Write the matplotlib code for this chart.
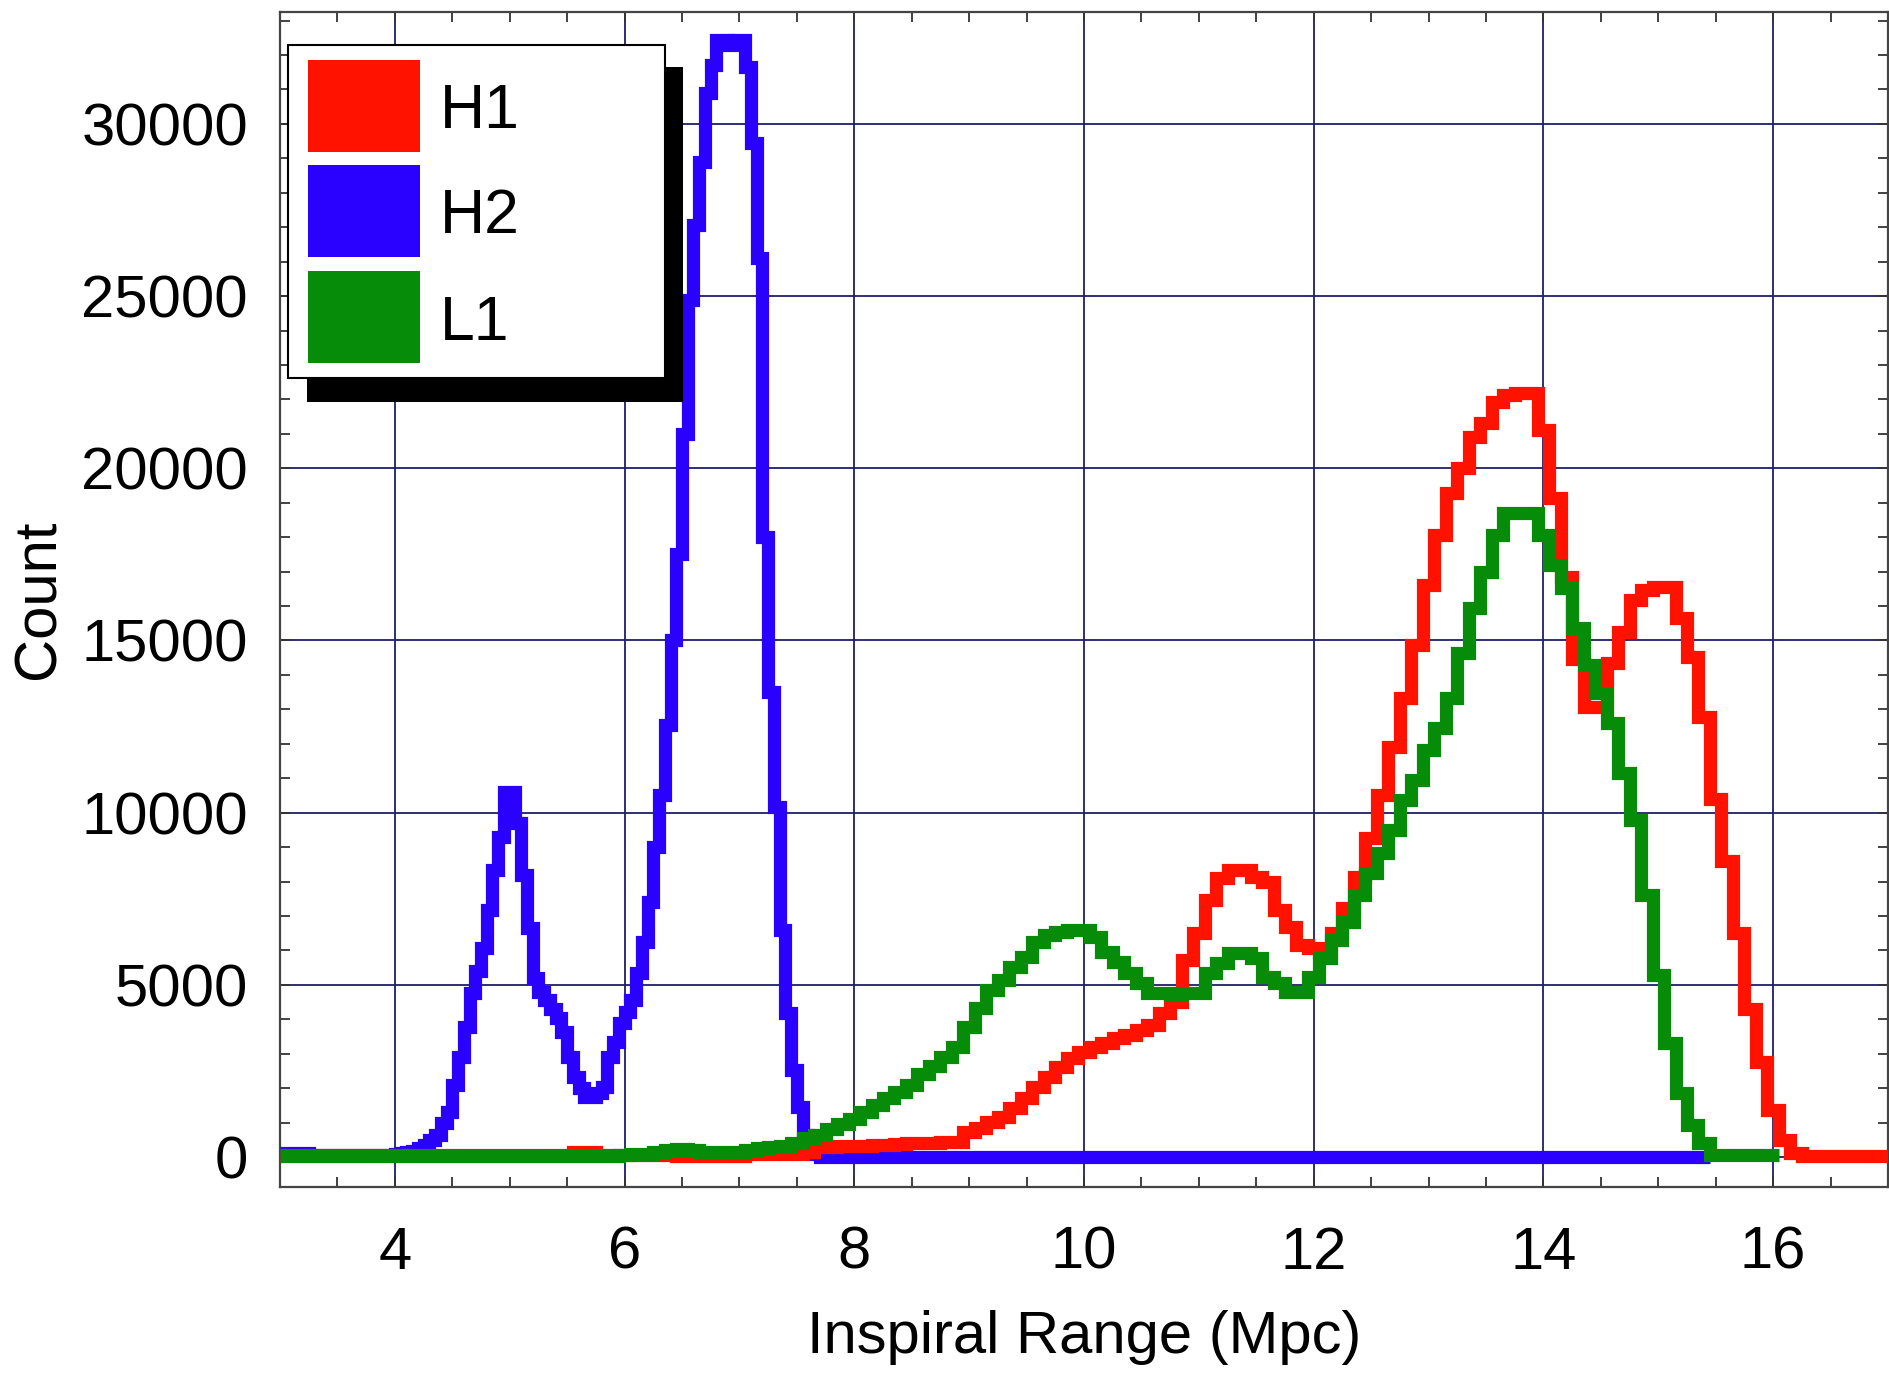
import numpy as np
import matplotlib
matplotlib.use("Agg")
import matplotlib.pyplot as plt
from matplotlib import font_manager as fm
from matplotlib.patches import Rectangle

# ---------------- data ----------------
series_names = ["H1", "H2", "L1"]
x_ticks = [4, 6, 8, 10, 12, 14, 16]
y_ticks = [0, 5000, 10000, 15000, 20000, 25000, 30000]

# H2 (blue): 0.05 Mpc bins from 4.00 to 7.70, plus flat tails
h2_start, h2_width = 4.00, 0.05
h2_counts = [
    100, 120, 150, 180, 250, 350, 500, 650, 1000, 1315,        # 4.00-4.45
    2090, 2900, 3785, 4760, 5400, 6065, 7170, 8330, 9300, 10610,  # 4.50-4.95
    10610, 9690, 8190, 6650, 5200, 4800, 4560, 4300, 4030, 3630,  # 5.00-5.45
    2900, 2320, 2000, 1740, 1740, 1850, 2030, 2900, 3340, 3890,   # 5.50-5.95
    4200, 4560, 5340, 6240, 7400, 9000, 10510, 12540, 15000, 17500,  # 6.00-6.45
    21000, 24890, 27070, 28900, 30890, 31710, 32440, 32440, 32300, 32440,  # 6.50-6.95
    32440, 31660, 29440, 26100, 18000, 13500, 10170, 6590, 4170, 2520,  # 7.00-7.45
    1460, 640, 300, 100,                                          # 7.50-7.65
]
h2_head_edges = [3.0, 3.25]
h2_head_counts = [120, 50]
h2_tail_end, h2_tail_count = 15.45, 0

# H1 (red): 0.1 Mpc bins from 5.55, plus flat tails
h1_start, h1_width = 5.55, 0.1
h1_counts = [
    150, 150, 60, 60, 60, 60, 60, 60, 60, 40,                     # 5.6-6.5
    40, 40, 40, 40, 40, 90, 90, 90, 90, 100,                      # 6.6-7.5
    150, 280, 300, 310, 320, 330, 350, 360, 380, 400,             # 7.6-8.5
    410, 420, 430, 445, 735, 840, 1025, 1170, 1420, 1710,         # 8.6-9.5
    2040, 2330, 2620, 2870, 3060, 3200, 3300, 3450, 3540, 3690,   # 9.6-10.5
    3830, 4170, 4510, 5720, 6500, 7460, 8100, 8330, 8330, 8140,   # 10.6-11.5
    8000, 7170, 6690, 6160, 6070, 5960, 6500, 7230, 8140, 9260,   # 11.6-12.5
    10500, 11900, 13330, 14870, 16610, 18060, 19280, 20010, 20920, 21310,  # 12.6-13.5
    21930, 22130, 22190, 22190, 21110, 19140, 16850, 14460, 13080, 13080,  # 13.6-14.5
    14340, 15250, 16180, 16470, 16560, 16560, 15640, 14530, 12790, 10400,  # 14.6-15.5
    8600, 6500, 4290, 2770, 1360, 490, 110,                       # 15.6-16.2
]
h1_head_start, h1_head_count = 3.0, 50
h1_tail_end, h1_tail_count = 17.0, 30

# L1 (green): 0.1 Mpc bins from 5.95, plus flat tails
l1_start, l1_width = 5.95, 0.1
l1_counts = [
    60, 80, 100, 150, 200, 220, 200, 150, 150, 150,               # 6.0-6.9
    150, 200, 250, 300, 330, 400, 550, 650, 800, 950,             # 7.0-7.9
    1100, 1300, 1500, 1700, 1900, 2100, 2400, 2650, 2900, 3200,   # 8.0-8.9
    3785, 4320, 4850, 5140, 5530, 5820, 6250, 6450, 6540, 6590,   # 9.0-9.9
    6590, 6400, 5960, 5670, 5340, 5050, 4760, 4760, 4700, 4760,   # 10.0-10.9
    4760, 5340, 5630, 5920, 5920, 5780, 5240, 5050, 4800, 4800,   # 11.0-11.9
    5240, 5780, 6300, 6830, 7610, 8240, 8820, 9500, 10370, 10950, # 12.0-12.9
    11820, 12450, 13320, 14630, 15930, 17000, 18060, 18690, 18690, 18690,  # 13.0-13.9
    18060, 17190, 16510, 15350, 14290, 13470, 12590, 11140, 9800, 7600,    # 14.0-14.9
    5300, 3300, 1850, 930, 400,                                   # 15.0-15.4
]
l1_head_start, l1_head_count = 3.0, 30
l1_tail_end, l1_tail_count = 16.05, 60


def build(head_edges, head_counts, start, width, counts, tail_end, tail_count):
    mid_edges = start + width * np.arange(len(counts) + 1)
    edges = np.concatenate([head_edges, mid_edges, [tail_end]])
    vals = np.concatenate([head_counts, counts, [tail_count]])
    return edges, vals


h2_e, h2_v = build(h2_head_edges, h2_head_counts, h2_start, h2_width, h2_counts,
                   h2_tail_end, h2_tail_count)
h1_e, h1_v = build([h1_head_start], [h1_head_count], h1_start, h1_width, h1_counts,
                   h1_tail_end, h1_tail_count)
l1_e, l1_v = build([l1_head_start], [l1_head_count], l1_start, l1_width, l1_counts,
                   l1_tail_end, l1_tail_count)

# ---------------- style ----------------
names = {f.name for f in fm.fontManager.ttflist}
family = "Liberation Sans Narrow" if "Liberation Sans Narrow" in names else "Liberation Sans"
plt.rcParams["font.family"] = [family, "DejaVu Sans"]

RED, BLUE, GREEN = "#ff1200", "#2a00ff", "#078c0a"
GRID = "#1e1e6a"
FS = 43
LW = 9.5

fig = plt.figure(figsize=(18.9, 13.74), dpi=100)
ax = fig.add_axes([280 / 1890, 187 / 1374, 1608 / 1890, 1175 / 1374])

ax.stairs(h2_v, h2_e, color=BLUE, lw=LW, baseline=None, zorder=3)
ax.stairs(h1_v, h1_e, color=RED, lw=LW, baseline=None, zorder=4)
ax.stairs(l1_v, l1_e, color=GREEN, lw=LW, baseline=None, zorder=5)

ax.set_xlim(3, 17)
ax.set_ylim(-870, 33250)
ax.set_xticks(x_ticks)
ax.set_xticklabels([str(t) for t in x_ticks])
ax.set_yticks(y_ticks)
ax.set_yticklabels([str(t) for t in y_ticks])
ax.set_xticks(np.arange(3, 17.01, 0.5), minor=True)
ax.set_yticks(np.arange(0, 33001, 1000), minor=True)
ax.tick_params(which="both", direction="in", top=True, right=True,
               length=7, width=1.3, color="#333333")
ax.tick_params(axis="x", which="major", labelsize=FS, pad=28)
ax.tick_params(axis="y", which="major", labelsize=FS, pad=23)
ax.grid(which="major", color=GRID, lw=1.3)
ax.set_axisbelow(True)
for s in ax.spines.values():
    s.set_color("#444444")
    s.set_linewidth(1.6)

ax.set_xlabel("Inspiral Range (Mpc)", fontsize=FS)
ax.xaxis.label.set_va("center")
ax.xaxis.set_label_coords(0.5, -0.1285)
ax.set_ylabel("Count", fontsize=FS)
ax.yaxis.label.set_va("center")
ax.yaxis.set_label_coords(-0.150, 0.5)

# legend (drawn as a boxed key with a solid drop shadow)
T = ax.transAxes
ax.add_patch(Rectangle((0.0168, 0.6681), 0.2338, 0.2851, transform=T,
                       facecolor="black", edgecolor="none", zorder=10, clip_on=False))
ax.add_patch(Rectangle((0.005, 0.6885), 0.2344, 0.2834, transform=T,
                       facecolor="white", edgecolor="black", lw=1.5, zorder=11, clip_on=False))
key_colors = [RED, BLUE, GREEN]
key_bottoms = [0.8809, 0.7915, 0.7013]
text_base = [0.9013, 0.8119, 0.7209]
for name, c, yb, tb in zip(series_names, key_colors, key_bottoms, text_base):
    ax.add_patch(Rectangle((0.0174, yb), 0.0697, 0.0780, transform=T,
                           facecolor=c, edgecolor="none", zorder=12, clip_on=False))
    ax.text(0.0995, tb, name, transform=T, fontsize=FS + 2, va="baseline", ha="left", zorder=13)

fig.savefig("out.png", dpi=100, facecolor="white")
